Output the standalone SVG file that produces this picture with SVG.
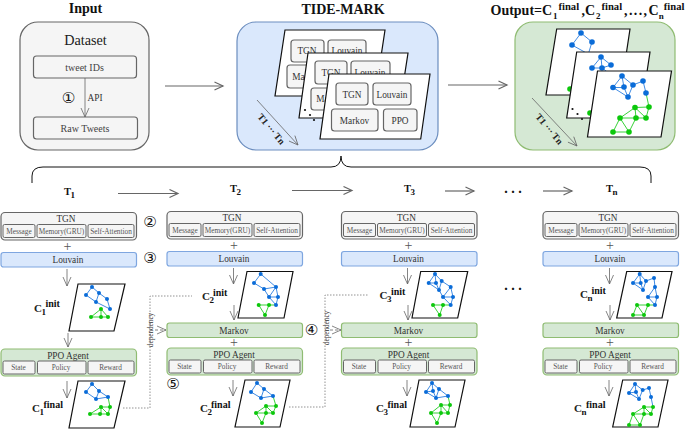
<svg xmlns="http://www.w3.org/2000/svg" width="685" height="429" viewBox="0 0 685 429">
<style>
text{font-family:"Liberation Serif","Times New Roman",serif;fill:#1a1a1a;text-anchor:middle}
.h{font-size:14px;font-weight:bold;fill:#111}
.hl{font-size:14px;font-weight:bold;fill:#111;text-anchor:start}
.T{font-size:10.500px;font-weight:bold;fill:#111;text-anchor:start}
.C{font-size:11px;font-weight:bold;fill:#222;text-anchor:start}
.sup{font-size:10px;font-weight:bold;fill:#111;text-anchor:start}
.supo{font-size:10.600px;font-weight:bold;fill:#111;text-anchor:start}
.sub{font-size:9px;font-weight:bold;fill:#111;text-anchor:start}
.m{font-size:9.300px;fill:#333}
.i{font-size:10px;fill:#444}
.s{font-size:7.300px;fill:#555}
.dp{font-size:7.200px;fill:#333}
.plus{font-size:14px;fill:#555}
.c{font-family:"DejaVu Sans",sans-serif;font-size:15px;fill:#111}
.rot{font-size:9.500px;font-weight:bold;fill:#222;text-anchor:start}
.g{fill:#f5f5f5;stroke:#666;stroke-width:1.200}
.gs{fill:#f5f5f5;stroke:#666;stroke-width:1}
.b{fill:#dae8fc;stroke:#7ea6e0;stroke-width:1.200}
.gr{fill:#d5e8d4;stroke:#8fbc72;stroke-width:1.200}
.p{fill:#fff;stroke:#111;stroke-width:1.200}
.a{fill:none;stroke:#666;stroke-width:.8;marker-end:url(#o)}
.A{fill:none;stroke:#666;stroke-width:1.200;marker-end:url(#O)}
.d{fill:none;stroke:#777;stroke-width:.8;stroke-dasharray:1.500 1.500}
.da{fill:none;stroke:#666;stroke-width:.8;stroke-dasharray:3 2;marker-end:url(#o)}
.eb{fill:none;stroke:#2a7ee0;stroke-width:.9}
.eg{fill:none;stroke:#22cc22;stroke-width:.9}
.nb{fill:#0a6cd8}
.ng{fill:#0cc80c}
.nb circle,.ng circle{r:2px}
.big circle{r:2.800px}
</style>
<defs>
<marker id="o" markerUnits="userSpaceOnUse" markerWidth="12" markerHeight="12" refX="10" refY="5" orient="auto"><path d="M1 1L10 5L1 9" fill="none" stroke="#666" stroke-width=".8"/></marker>
<marker id="O" markerUnits="userSpaceOnUse" markerWidth="12" markerHeight="12" refX="9.500" refY="5" orient="auto"><path d="M1 1L9.500 5L1 9" fill="none" stroke="#666" stroke-width="1.200"/></marker>
</defs>

<g id="input">
<text class="h" x="85.500" y="13">Input</text>
<rect x="20" y="22" width="129" height="128" rx="18" fill="#f5f5f5" stroke="#666" stroke-width="1.200"/>
<text x="85.500" y="45" style="font-size:14.200px">Dataset</text>
<rect class="g" x="33.500" y="56" width="103" height="22" rx="3"/>
<text class="i" x="84.500" y="71">tweet IDs</text>
<rect class="g" x="33.500" y="117" width="104" height="22" rx="3"/>
<text class="i" x="85" y="132">Raw Tweets</text>
<text class="c" x="68.500" y="103">①</text>
<text class="m" x="95" y="101">API</text>
</g>

<g id="tide-mark">
<text class="h" x="343" y="14">TIDE-MARK</text>
<rect x="237" y="22" width="201" height="128" rx="19" fill="#dae8fc" stroke="#6c8ebf" stroke-width="1.200"/>
<text class="rot" transform="translate(257 117) rotate(50)">T1 ··· Tn</text>
<path class="p" d="M285 30H385L375 96H275Z"/>
<rect class="g" x="291" y="40" width="33" height="22" rx="3"/><text class="m" x="307" y="54">TGN</text>
<rect class="g" x="328" y="40" width="38" height="22" rx="3"/><text class="m" x="347" y="54">Louvain</text>
<rect class="g" x="287" y="65" width="40" height="23" rx="3"/><text class="m" x="307" y="80">Markov</text>
<path class="p" d="M308 53H408L398 118H299Z"/>
<rect class="g" x="315" y="61" width="32" height="23" rx="3"/><text class="m" x="331" y="76">TGN</text>
<rect class="g" x="351" y="61" width="39" height="23" rx="3"/><text class="m" x="370" y="76">Louvain</text>
<rect class="g" x="311" y="88" width="40" height="22" rx="3"/><text class="m" x="331" y="102">Markov</text>
<circle cx="305" cy="110" r="1.100" fill="#111"/><circle cx="310" cy="115" r="1.100" fill="#111"/><circle cx="314" cy="120" r="1.100" fill="#111"/>
<path class="p" d="M329 74H430L420.700 139H320Z"/>
<rect class="g" x="336" y="83" width="32" height="22" rx="3"/><text class="m" x="352" y="97.500">TGN</text>
<rect class="g" x="373" y="83" width="38" height="22" rx="3"/><text class="m" x="392" y="97.500">Louvain</text>
<rect class="g" x="331.500" y="109" width="46.500" height="22" rx="3"/><text class="m" x="354.500" y="123.500">Markov</text>
<rect class="g" x="383.500" y="109" width="33.500" height="22" rx="3"/><text class="m" x="400" y="123.500">PPO</text>
</g>

<g id="output">
<text class="hl" x="490.500" y="15">Output=C</text>
<text class="sub" x="553" y="19">1</text>
<text class="supo" x="558.500" y="9.500">final</text>
<text class="hl" x="581.500" y="15">,C</text>
<text class="sub" x="596" y="19">2</text>
<text class="supo" x="601.500" y="9.500">final</text>
<text class="hl" x="624" y="15" style="letter-spacing:1.400px">,...,C</text>
<text class="sub" x="658.700" y="19">n</text>
<text class="supo" x="663.800" y="9.500">final</text>
<rect x="515" y="22" width="160" height="128" rx="18" fill="#d5e8d4" stroke="#8fbc72" stroke-width="1.200"/>
<text class="rot" transform="translate(535 117) rotate(50)">T1 ··· Tn</text>
<path class="p" d="M556.700 29H630L620 95H546Z"/>
<path class="eb" d="M581 33L572 45L590 55M581 33L592 42L588 55"/>
<g class="nb big"><circle cx="581" cy="33"/><circle cx="572" cy="45"/><circle cx="592" cy="42"/></g>
<g class="ng big"><circle cx="570" cy="89"/></g>
<path class="p" d="M576.700 52H650L640 118H566.700Z"/>
<path class="eb" d="M601 57L592 68H602L601 57L611 65L602 68M602 68L618 80"/>
<g class="nb big"><circle cx="601" cy="57"/><circle cx="592" cy="68"/><circle cx="602" cy="68"/><circle cx="611" cy="65"/></g>
<g class="ng big"><circle cx="590" cy="113"/></g>
<circle cx="572.500" cy="109" r="1.100" fill="#111"/><circle cx="577.500" cy="114" r="1.100" fill="#111"/><circle cx="582" cy="119" r="1.100" fill="#111"/>
<path class="p" d="M597.500 71H671.500L661 137H587.500Z"/>
<path class="eb" d="M622 76L613 87.500H624L622 76L633 85L628 97L613 87.500M633 85L643 81L646 93M624 87.500L628 97"/>
<path class="eg" d="M646 93L649 107L635 107.500L620 118L636 118L635 107.500L646 118L649 107M620 118L613 132L629 132L620 118M636 118L629 132M636 118H646"/>
<g class="nb big"><circle cx="622" cy="76"/><circle cx="613" cy="87.500"/><circle cx="624" cy="87"/><circle cx="628" cy="97"/><circle cx="633" cy="85"/><circle cx="643" cy="81"/><circle cx="646" cy="93"/></g>
<g class="ng big"><circle cx="649" cy="107"/><circle cx="635" cy="107.500"/><circle cx="620" cy="118"/><circle cx="636" cy="118"/><circle cx="646" cy="118"/><circle cx="613" cy="132"/><circle cx="629" cy="132"/></g>
</g>

<g id="time-labels">
<text class="T" x="64" y="194.500">T</text><text class="sub" x="70.500" y="197.500">1</text>
<text class="T" x="230" y="192">T</text><text class="sub" x="236.500" y="195">2</text>
<text class="T" x="404" y="192">T</text><text class="sub" x="410.500" y="195">3</text>
<text class="T" x="606" y="192">T</text><text class="sub" x="612.500" y="195">n</text>
<text class="h" x="513" y="193">. . .</text>
<text class="h" x="513" y="290">. . .</text>
</g>

<g id="markers">
<text class="c" x="150" y="227">②</text>
<text class="c" x="150" y="263">③</text>
<text class="c" x="311.500" y="335">④</text>
<text class="c" x="173" y="388.500">⑤</text>
</g>

<g id="col1">
<rect class="g" x="1" y="212.500" width="135.500" height="27.500" rx="4"/>
<text class="m" x="66" y="221.800">TGN</text>
<rect class="gs" x="3" y="224.500" width="32" height="13" rx="1.500"/><text class="s" x="19" y="233.500">Message</text>
<rect class="gs" x="37" y="224.500" width="49" height="13" rx="1.500"/><text class="s" x="61.500" y="233.500">Memory(GRU)</text>
<rect class="gs" x="88" y="224.500" width="46" height="13" rx="1.500"/><text class="s" x="111" y="233.500">Self-Attention</text>
<text class="plus" x="67.500" y="250.500">+</text>
<rect class="b" x="1" y="252.500" width="135.500" height="14.500" rx="2.500"/><text class="m" x="68" y="263">Louvain</text>
<path class="p" d="M78 284H125L114 331H69Z"/>
<path class="eb" d="M92 287L86 295L96 302L110 309L107 299L99 293L92 287M99 293L96 302"/>
<path class="eg" d="M91 317L101 309L108 317H91M101 309V317"/>
<g class="nb"><circle cx="92" cy="287"/><circle cx="86" cy="295"/><circle cx="99" cy="293"/><circle cx="96" cy="302"/><circle cx="107" cy="299"/><circle cx="110" cy="309"/></g>
<g class="ng"><circle cx="91" cy="317"/><circle cx="101" cy="309"/><circle cx="101" cy="317"/><circle cx="108" cy="317"/></g>
<text class="C" x="34" y="311.500">C</text><text class="sub" x="41.500" y="314.500">1</text><text class="sup" x="45.500" y="307">init</text>
<rect class="gr" x="1" y="349" width="135.500" height="27" rx="4"/>
<text class="m" x="68" y="358.800">PPO Agent</text>
<rect class="gs" x="3" y="361" width="32" height="13" rx="1.500"/><text class="s" x="18.500" y="370">State</text>
<rect class="gs" x="37.500" y="361" width="48.500" height="13" rx="1.500"/><text class="s" x="61" y="370">Policy</text>
<rect class="gs" x="88" y="361" width="46" height="13" rx="1.500"/><text class="s" x="110.500" y="370">Reward</text>
<path class="p" d="M78 381H125L114 428H69Z"/>
<path class="eb" d="M92 384L86 392L96 399L108 397L99 391L92 384M99 391L96 399"/>
<path class="eg" d="M108 397L110 407H101L90 414H108L110 407M101 407L108 414M101 407V414"/>
<g class="nb"><circle cx="92" cy="384"/><circle cx="86" cy="392"/><circle cx="99" cy="391"/><circle cx="96" cy="399"/><circle cx="108" cy="397"/></g>
<g class="ng"><circle cx="110" cy="407"/><circle cx="101" cy="407"/><circle cx="90" cy="414"/><circle cx="100" cy="414"/><circle cx="108" cy="414"/></g>
<text class="C" x="32" y="412">C</text><text class="sub" x="39.500" y="415">1</text><text class="sup" x="43.500" y="408">final</text>
</g>

<g id="col2">
<rect class="g" x="167" y="211.500" width="135.500" height="27.500" rx="4"/>
<text class="m" x="232" y="220.800">TGN</text>
<rect class="gs" x="169" y="223.500" width="32" height="13" rx="1.500"/><text class="s" x="185" y="232.500">Message</text>
<rect class="gs" x="203" y="223.500" width="49" height="13" rx="1.500"/><text class="s" x="227.500" y="232.500">Memory(GRU)</text>
<rect class="gs" x="254" y="223.500" width="46" height="13" rx="1.500"/><text class="s" x="277" y="232.500">Self-Attention</text>
<text class="plus" x="234" y="249.500">+</text>
<rect class="b" x="167" y="251.500" width="135.500" height="14.500" rx="2.500"/><text class="m" x="234" y="262">Louvain</text>
<path class="p" d="M247 271.500H293L284 318H238Z"/>
<path class="eb" d="M260.700 274L254 283L264 289L269 297L276 305L278 297L276 287L264 289M260.700 274L276 287L269 297H278"/>
<path class="eg" d="M258.700 305H276M258.700 305L265 315L269 305"/>
<g class="nb"><circle cx="260.700" cy="274"/><circle cx="254" cy="283"/><circle cx="264" cy="289"/><circle cx="276" cy="287"/><circle cx="269" cy="297"/><circle cx="278" cy="297"/><circle cx="276" cy="305"/></g>
<g class="ng"><circle cx="258.700" cy="305"/><circle cx="269" cy="305"/><circle cx="265" cy="315"/></g>
<text class="C" x="202" y="300">C</text><text class="sub" x="209.500" y="303">2</text><text class="sup" x="213" y="296">init</text>
<rect class="gr" x="167" y="323" width="135.500" height="14.500" rx="2.500"/><text class="m" x="234" y="333.500">Markov</text>
<text class="plus" x="234" y="346.500">+</text>
<rect class="gr" x="167" y="348" width="135.500" height="27" rx="4"/>
<text class="m" x="234" y="357.800">PPO Agent</text>
<rect class="gs" x="169" y="360" width="32" height="13" rx="1.500"/><text class="s" x="184.500" y="369">State</text>
<rect class="gs" x="203.500" y="360" width="48.500" height="13" rx="1.500"/><text class="s" x="227" y="369">Policy</text>
<rect class="gs" x="254" y="360" width="46" height="13" rx="1.500"/><text class="s" x="276.500" y="369">Reward</text>
<path class="p" d="M245 380H290L280 427H235Z"/>
<path class="eb" d="M257 383L251 392L261 398L273 396L264 389L257 383M264 389L261 398"/>
<path class="eg" d="M273 396L276 406H266L256 413H273L276 406M266 406L273 413M266 406V413M256 413L262 423L266 413"/>
<g class="nb"><circle cx="257" cy="383"/><circle cx="251" cy="392"/><circle cx="264" cy="389"/><circle cx="261" cy="398"/><circle cx="273" cy="396"/></g>
<g class="ng"><circle cx="276" cy="406"/><circle cx="266" cy="406"/><circle cx="256" cy="413"/><circle cx="266" cy="413"/><circle cx="273" cy="413"/><circle cx="262" cy="423"/></g>
<text class="C" x="200" y="412">C</text><text class="sub" x="207.500" y="415">2</text><text class="sup" x="211" y="408">final</text>
</g>

<g id="col3">
<rect class="g" x="341.500" y="211.500" width="135.500" height="27.500" rx="4"/>
<text class="m" x="406.500" y="220.800">TGN</text>
<rect class="gs" x="343.500" y="223.500" width="32" height="13" rx="1.500"/><text class="s" x="359.500" y="232.500">Message</text>
<rect class="gs" x="377.500" y="223.500" width="49" height="13" rx="1.500"/><text class="s" x="402" y="232.500">Memory(GRU)</text>
<rect class="gs" x="428.500" y="223.500" width="46" height="13" rx="1.500"/><text class="s" x="451.500" y="232.500">Self-Attention</text>
<text class="plus" x="408.500" y="249.500">+</text>
<rect class="b" x="341.500" y="251.500" width="135.500" height="14.500" rx="2.500"/><text class="m" x="408.500" y="262">Louvain</text>
<path class="p" d="M420.700 271.500H467.700L457.700 318H412Z"/>
<path class="eb" d="M435 274L428.700 283L436 283L435 274L441.700 281L439 290L428.700 283M436 283L439 290M441.700 281L450.700 287L453 297L450.700 305L443 297H453M439 290L443 297L450.700 287"/>
<path class="eg" d="M433 305H450.700M433 305L439.700 315L443 305"/>
<g class="nb"><circle cx="435" cy="274"/><circle cx="428.700" cy="283"/><circle cx="436" cy="283"/><circle cx="441.700" cy="281"/><circle cx="439" cy="290"/><circle cx="450.700" cy="287"/><circle cx="443" cy="297"/><circle cx="453" cy="297"/><circle cx="450.700" cy="305"/></g>
<g class="ng"><circle cx="433" cy="305"/><circle cx="443" cy="305"/><circle cx="439.700" cy="315"/></g>
<text class="C" x="379.500" y="299">C</text><text class="sub" x="387" y="302">3</text><text class="sup" x="391" y="295">init</text>
<rect class="gr" x="341.500" y="323" width="135.500" height="14.500" rx="2.500"/><text class="m" x="408.500" y="333.500">Markov</text>
<text class="plus" x="408.500" y="346.500">+</text>
<rect class="gr" x="341.500" y="348" width="135.500" height="27" rx="4"/>
<text class="m" x="408.500" y="357.800">PPO Agent</text>
<rect class="gs" x="343.500" y="360" width="32" height="13" rx="1.500"/><text class="s" x="359" y="369">State</text>
<rect class="gs" x="378" y="360" width="48.500" height="13" rx="1.500"/><text class="s" x="401.500" y="369">Policy</text>
<rect class="gs" x="428.500" y="360" width="46" height="13" rx="1.500"/><text class="s" x="451" y="369">Reward</text>
<path class="p" d="M419 380H465L455 427H410Z"/>
<path class="eb" d="M432 383L426 392L433 391L432 383L439 389L436 398L426 392M433 391L436 398L448 396L439 389"/>
<path class="eg" d="M448 396L450 405H441L431 413H448L450 405M441 405L448 413M441 405V413M431 413L437 423L441 413"/>
<g class="nb"><circle cx="432" cy="383"/><circle cx="426" cy="392"/><circle cx="433" cy="391"/><circle cx="439" cy="389"/><circle cx="436" cy="398"/><circle cx="448" cy="396"/></g>
<g class="ng"><circle cx="450" cy="405"/><circle cx="441" cy="405"/><circle cx="431" cy="413"/><circle cx="441" cy="413"/><circle cx="448" cy="413"/><circle cx="437" cy="423"/></g>
<text class="C" x="376" y="412">C</text><text class="sub" x="383.500" y="415">3</text><text class="sup" x="387.500" y="408">final</text>
</g>

<g id="coln">
<rect class="g" x="543" y="211.500" width="135.500" height="27.500" rx="4"/>
<text class="m" x="608" y="220.800">TGN</text>
<rect class="gs" x="545" y="223.500" width="32" height="13" rx="1.500"/><text class="s" x="561" y="232.500">Message</text>
<rect class="gs" x="579" y="223.500" width="49" height="13" rx="1.500"/><text class="s" x="603.500" y="232.500">Memory(GRU)</text>
<rect class="gs" x="630" y="223.500" width="46" height="13" rx="1.500"/><text class="s" x="653" y="232.500">Self-Attention</text>
<text class="plus" x="610" y="249.500">+</text>
<rect class="b" x="543" y="251.500" width="135.500" height="14.500" rx="2.500"/><text class="m" x="610" y="262">Louvain</text>
<path class="p" d="M626.700 271.500H672L662 318H616.700Z"/>
<path class="eb" d="M639.700 274L633 283H640.700L639.700 274L646 281L643 290L633 283M640.700 283L643 290M646 281L654 278L655 287L657 297L655 305L648 297H657M655 287L648 297"/>
<path class="eg" d="M637 305H655M637 305L633 315H644L637 305M648 305L644 315"/>
<g class="nb"><circle cx="639.700" cy="274"/><circle cx="633" cy="283"/><circle cx="640.700" cy="283"/><circle cx="646" cy="281"/><circle cx="643" cy="290"/><circle cx="654" cy="278"/><circle cx="655" cy="287"/><circle cx="648" cy="297"/><circle cx="657" cy="297"/><circle cx="655" cy="305"/></g>
<g class="ng"><circle cx="637" cy="305"/><circle cx="648" cy="305"/><circle cx="633" cy="315"/><circle cx="644" cy="315"/></g>
<text class="C" x="580" y="298">C</text><text class="sub" x="587.500" y="301">n</text><text class="sup" x="591.500" y="294">init</text>
<rect class="gr" x="543" y="323" width="135.500" height="14.500" rx="2.500"/><text class="m" x="610" y="333.500">Markov</text>
<text class="plus" x="610" y="346.500">+</text>
<rect class="gr" x="543" y="348" width="135.500" height="27" rx="4"/>
<text class="m" x="610" y="357.800">PPO Agent</text>
<rect class="gs" x="545" y="360" width="32" height="13" rx="1.500"/><text class="s" x="560.500" y="369">State</text>
<rect class="gs" x="579.500" y="360" width="48.500" height="13" rx="1.500"/><text class="s" x="603" y="369">Policy</text>
<rect class="gs" x="630" y="360" width="46" height="13" rx="1.500"/><text class="s" x="652.500" y="369">Reward</text>
<path class="p" d="M622.700 380H668L658 427H612.700Z"/>
<path class="eb" d="M635 384L629 393L636 392L635 384L642.700 390L639 399L629 393M636 392L639 399M642.700 390L649 388L651 397L653 407"/>
<path class="eg" d="M653 407H644L633 414H651L653 407M644 407L651 414M644 407V414M633 414L629 425H640L633 414M644 414L640 425"/>
<g class="nb"><circle cx="635" cy="384"/><circle cx="629" cy="393"/><circle cx="636" cy="392"/><circle cx="642.700" cy="390"/><circle cx="639" cy="399"/><circle cx="649" cy="388"/><circle cx="651" cy="397"/></g>
<g class="ng"><circle cx="653" cy="407"/><circle cx="644" cy="407"/><circle cx="633" cy="414"/><circle cx="644" cy="414"/><circle cx="651" cy="414"/><circle cx="629" cy="425"/><circle cx="640" cy="425"/></g>
<text class="C" x="574" y="412">C</text><text class="sub" x="581.500" y="415">n</text><text class="sup" x="586" y="408">final</text>
</g>

<g id="dependency-labels">
<text class="dp" transform="translate(153 330) rotate(-90)">dependency</text>
<text class="dp" transform="translate(328.500 328) rotate(-90)">dependency</text>
</g>

<g id="connectors">
<path class="a" d="M85 78V117"/>
<path class="A" d="M165 86H223"/>
<path class="A" d="M448 85H507"/>
<path fill="none" stroke="#111" stroke-width="1" d="M32 183V176Q32 167 43 167H331Q341 167 341 156Q341 167 351 167H640Q651 167 651 176V183"/>
<path class="A" d="M118 193.500H178"/>
<path class="A" d="M292 190.500H352"/>
<path class="A" d="M445 191H474"/>
<path class="A" d="M543 191H572"/>
<path class="a" d="M67 269V286"/>
<path class="a" d="M68 333V347"/>
<path class="a" d="M67 381V398"/>
<path class="a" d="M233.500 268V284"/>
<path class="a" d="M234 305V320"/>
<path class="a" d="M233 380V396"/>
<path class="a" d="M407.500 268V284"/>
<path class="a" d="M408 305V320"/>
<path class="a" d="M407 380V396"/>
<path class="a" d="M609.500 268V284"/>
<path class="a" d="M610 305V320"/>
<path class="a" d="M609 380V396"/>
<path class="d" d="M123 408H150V296H192"/>
<path class="d" d="M289 407H325V295H368"/>
<path class="da" d="M155 330H166"/>
<path class="da" d="M330 330H341"/>
<path class="a" d="M257 100L298 145"/>
<path class="a" d="M532 98L577 146"/>
</g>
</svg>
